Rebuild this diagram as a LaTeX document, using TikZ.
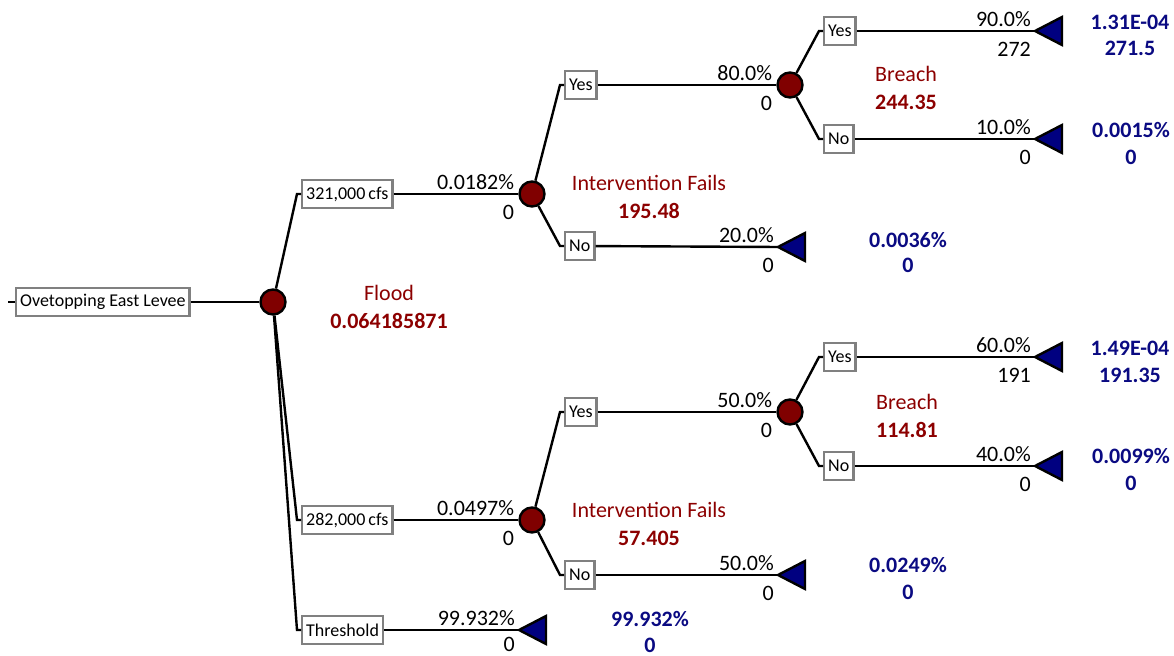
\documentclass[tikz,border=0pt]{standalone}
\usepackage{fontspec}
\setmainfont{Carlito}
\usepackage{tikz}
\usetikzlibrary{positioning, calc}
\usepackage{xcolor}

\definecolor{chancered}{RGB}{128,0,0}
\definecolor{labelred}{RGB}{140,0,0}
\definecolor{termblue}{RGB}{0,0,128}
\definecolor{valblue}{RGB}{10,10,130}
\definecolor{boxgray}{RGB}{128,128,128}

\begin{document}
\begin{tikzpicture}[
    x=0.5pt, y=-0.5pt,
    font=\fontsize{11}{13}\selectfont,
    % Node styles
    choice/.style={rectangle, draw=boxgray, line width=1.2pt, fill=white, inner xsep=2pt, inner ysep=1pt, minimum height=14pt, font=\fontsize{9}{10}\selectfont},
    chance/.style={circle, draw=black, line width=1.2pt, fill=chancered, minimum size=12.5pt, inner sep=0pt},
    term/.style={draw=black, line width=1.2pt, fill=termblue, line join=miter},
    branch/.style={line width=1.2pt, black},
    prob/.style={inner sep=1.5pt, text=black},
    payoff/.style={inner sep=1.5pt, text=black, yshift=-3.5pt},
    evname/.style={text=labelred},
    evval/.style={text=labelred, font=\fontsize{11}{13}\selectfont\bfseries},
    val/.style={text=valblue, font=\fontsize{11}{13}\selectfont\bfseries},
]
\useasboundingbox (0,0) rectangle (1174,656);

% ============================================================================
% ROOT: FLOOD EVENT
% ============================================================================
\node[choice, anchor=west] (root) at (15,302) {Ovetopping East Levee};
\draw[branch] (root.west) -- ++(-7,0);
\node[chance] (c0) at (273,302) {};
\draw[branch] (root) -- (c0);

\node[evname] (flood) at (389,293) {Flood};
\node[evval] (floodv) at (389,321) {0.064185871};

% Flow branches
\node[choice, anchor=west] (q1) at (301,194) {321,000\,cfs};
\node[choice, anchor=west] (q2) at (301,520) {282,000\,cfs};
\node[choice, anchor=west] (q3) at (301,630) {Threshold};

\draw[branch] (c0) -- ([xshift=-2pt]q1.west) -- (q1.west);
\draw[branch] (c0) -- ([xshift=-2pt]q2.west) -- (q2.west);
\draw[branch] (c0) -- ([xshift=-2pt]q3.west) -- (q3.west);

% ============================================================================
% UPPER: 321,000 CFS
% ============================================================================
\node[chance] (c1) at (532,194) {};
\draw[branch] (q1) -- (c1)
    node[prob, pos=1, above left] {0.0182\%}
    node[payoff, pos=1, below left] {0};

\node[evname] (fail1) at (649,183) {Intervention Fails};
\node[evval] (fail1v) at (649,211) {195.48};

\node[choice, anchor=west] (yes1) at (564,85) {Yes};
\node[choice, anchor=west] (no1) at (564,246) {No};
\draw[branch] (c1) -- ([xshift=-2pt]yes1.west) -- (yes1.west);
\draw[branch] (c1) -- ([xshift=-2pt]no1.west) -- (no1.west);

% Intervention works: terminal
\coordinate (t3) at (778,247);
\draw[branch] (no1) -- (t3)
    node[prob, pos=1, above left] {20.0\%}
    node[payoff, pos=1, below left] {0};
\draw[term] (t3) -- ++(27,-14) -- ++(0,28) -- cycle;
\node[val] (t3a) at (908,240) {0.0036\%};
\node[val] (t3b) at (908,265) {0};

% Breach
\node[chance] (c2) at (790,85) {};
\draw[branch] (yes1) -- (c2)
    node[prob, pos=1, above left] {80.0\%}
    node[payoff, pos=1, below left] {0};

\node[evname] (br1) at (906,74) {Breach};
\node[evval] (br1v) at (906,102) {244.35};

\node[choice, anchor=west] (yes2) at (823,31) {Yes};
\node[choice, anchor=west] (no2) at (823,139) {No};
\draw[branch] (c2) -- ([xshift=-2pt]yes2.west) -- (yes2.west);
\draw[branch] (c2) -- ([xshift=-2pt]no2.west) -- (no2.west);

\coordinate (t1) at (1035,31);
\draw[branch] (yes2) -- (t1)
    node[prob, pos=1, above left] {90.0\%}
    node[payoff, pos=1, below left] {272};
\draw[term] (t1) -- ++(27,-14) -- ++(0,28) -- cycle;
\node[val] (t1a) at (1130,22) {1.31E-04};
\node[val] (t1b) at (1130,48) {271.5};

\coordinate (t2) at (1035,139);
\draw[branch] (no2) -- (t2)
    node[prob, pos=1, above left] {10.0\%}
    node[payoff, pos=1, below left] {0};
\draw[term] (t2) -- ++(27,-14) -- ++(0,28) -- cycle;
\node[val] (t2a) at (1131,130) {0.0015\%};
\node[val] (t2b) at (1131,157) {0};

% ============================================================================
% LOWER: 282,000 CFS
% ============================================================================
\node[chance] (c4) at (532,520) {};
\draw[branch] (q2) -- (c4)
    node[prob, pos=1, above left] {0.0497\%}
    node[payoff, pos=1, below left] {0};

\node[evname] (fail2) at (649,510) {Intervention Fails};
\node[evval] (fail2v) at (649,538) {57.405};

\node[choice, anchor=west] (yes3) at (564,412) {Yes};
\node[choice, anchor=west] (no3) at (564,575) {No};
\draw[branch] (c4) -- ([xshift=-2pt]yes3.west) -- (yes3.west);
\draw[branch] (c4) -- ([xshift=-2pt]no3.west) -- (no3.west);

\coordinate (t6) at (778,575);
\draw[branch] (no3) -- (t6)
    node[prob, pos=1, above left] {50.0\%}
    node[payoff, pos=1, below left] {0};
\draw[term] (t6) -- ++(27,-14) -- ++(0,28) -- cycle;
\node[val] (t6a) at (908,565) {0.0249\%};
\node[val] (t6b) at (908,592) {0};

% Breach
\node[chance] (c5) at (790,412) {};
\draw[branch] (yes3) -- (c5)
    node[prob, pos=1, above left] {50.0\%}
    node[payoff, pos=1, below left] {0};

\node[evname] (br2) at (907,402) {Breach};
\node[evval] (br2v) at (907,430) {114.81};

\node[choice, anchor=west] (yes4) at (823,357) {Yes};
\node[choice, anchor=west] (no4) at (823,466) {No};
\draw[branch] (c5) -- ([xshift=-2pt]yes4.west) -- (yes4.west);
\draw[branch] (c5) -- ([xshift=-2pt]no4.west) -- (no4.west);

\coordinate (t4) at (1035,357);
\draw[branch] (yes4) -- (t4)
    node[prob, pos=1, above left] {60.0\%}
    node[payoff, pos=1, below left] {191};
\draw[term] (t4) -- ++(27,-14) -- ++(0,28) -- cycle;
\node[val] (t4a) at (1130,348) {1.49E-04};
\node[val] (t4b) at (1130,375) {191.35};

\coordinate (t5) at (1035,466);
\draw[branch] (no4) -- (t5)
    node[prob, pos=1, above left] {40.0\%}
    node[payoff, pos=1, below left] {0};
\draw[term] (t5) -- ++(27,-14) -- ++(0,28) -- cycle;
\node[val] (t5a) at (1131,456) {0.0099\%};
\node[val] (t5b) at (1131,483) {0};

% ============================================================================
% BOTTOM: THRESHOLD
% ============================================================================
\coordinate (t8) at (519,630);
\draw[branch] (q3) -- (t8)
    node[prob, pos=1, above left] {99.932\%}
    node[payoff, pos=1, below left, yshift=2pt] {0};
\draw[term] (t8) -- ++(27,-14) -- ++(0,28) -- cycle;
\node[val] (t8a) at (650,619) {99.932\%};
\node[val] (t8b) at (650,645) {0};

\end{tikzpicture}
\end{document}
